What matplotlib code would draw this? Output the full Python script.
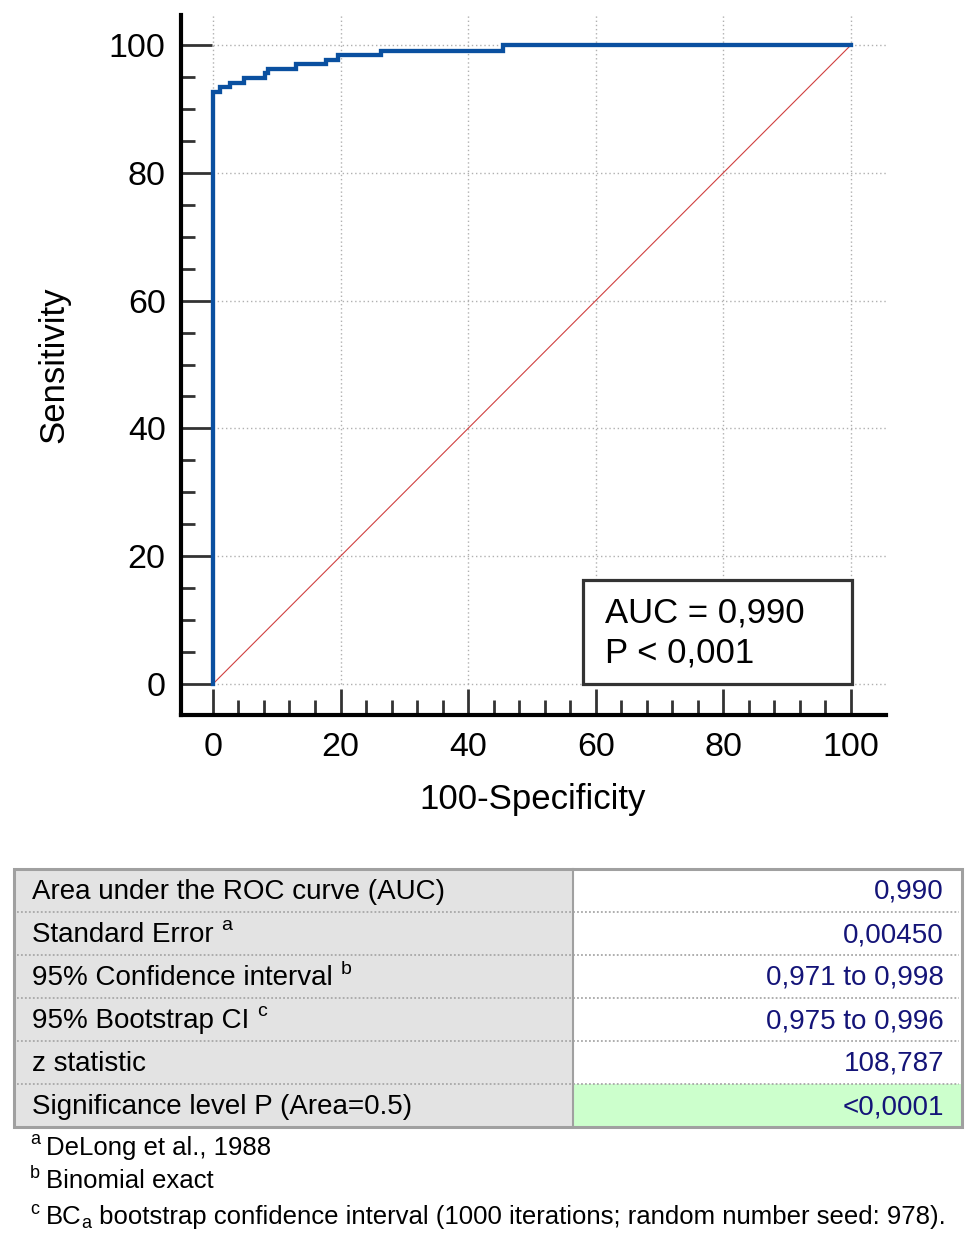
import matplotlib
matplotlib.use('Agg')
import matplotlib.pyplot as plt
from matplotlib.patches import Rectangle
import numpy as np

plt.rcParams['font.family'] = ['Liberation Sans', 'DejaVu Sans']

# ---------------- data ----------------
fpr = [0, 0, 1.1, 2.7, 4.9, 8.2, 8.7, 13.0, 17.8, 19.6, 26.4, 45.5, 100]
tpr = [0, 92.6, 93.4, 94.1, 94.8, 95.6, 96.3, 97.0, 97.7, 98.4, 99.1, 100, 100]
diag = [0, 100]
xticks = [0, 20, 40, 60, 80, 100]
yticks = [0, 20, 40, 60, 80, 100]
xminor = [v for v in range(0, 101, 4) if v % 20]
yminor = [v for v in range(0, 101, 5) if v % 20]
xlabel = "100-Specificity"
ylabel = "Sensitivity"
auc_lines = ["AUC = 0,990", "P < 0,001"]

row_labels = ["Area under the ROC curve (AUC)", "Standard Error",
              "95% Confidence interval", "95% Bootstrap CI",
              "z statistic", "Significance level P (Area=0.5)"]
row_marks = ["", "a", "b", "c", "", ""]
row_values = ["0,990", "0,00450", "0,971 to 0,998", "0,975 to 0,996",
              "108,787", "<0,0001"]
note_marks = ["a", "b", "c"]
note_texts = [["DeLong et al., 1988"], ["Binomial exact"],
              ["BC", "a", " bootstrap confidence interval (1000 iterations; random number seed: 978)."]]

W, H = 976, 1248
fig = plt.figure(figsize=(W / 100, H / 100), dpi=100)

# ---------------- ROC axes ----------------
L, R, T, B = 181, 886, 15, 715
ax = fig.add_axes([L / W, 1 - B / H, (R - L) / W, (B - T) / H])
ax.set_xlim(-5.0, 105.5)
ax.set_ylim(-4.85, 104.7)
for s in ['top', 'right']:
    ax.spines[s].set_visible(False)
for s in ['left', 'bottom']:
    ax.spines[s].set_linewidth(3)
    ax.spines[s].set_color('black')

ax.set_xticks(xticks)
ax.set_yticks(yticks)
ax.set_xticks(xminor, minor=True)
ax.set_yticks(yminor, minor=True)
ax.set_xticklabels([str(v) for v in xticks])
ax.set_yticklabels([str(v) for v in yticks])
ax.tick_params(axis='both', which='both', direction='in', color='#333333', width=2)
ax.tick_params(axis='y', which='major', length=22, pad=11, labelsize=24.5)
ax.tick_params(axis='y', which='minor', length=10)
ax.tick_params(axis='x', which='major', length=19, pad=12, labelsize=24.5)
ax.tick_params(axis='x', which='minor', length=11)

# grid (from 0 to the axes edge)
xmax = ax.get_xlim()[1]
ymax = ax.get_ylim()[1]
gkw = dict(color='#b0b0b0', linewidth=1, linestyle=(0, (1, 2)), zorder=1)
for v in yticks:
    ax.plot([0, xmax], [v, v], **gkw)
for v in xticks:
    ax.plot([v, v], [0, ymax], **gkw)

ax.plot(diag, diag, color='#d04040', linewidth=0.8, zorder=2)
ax.plot(fpr, tpr, drawstyle='steps-post', color='#0a50a0', linewidth=3.1,
        solid_joinstyle='miter', zorder=4, clip_on=False)

ax.add_patch(Rectangle((58.0, 0), 42.2, 16.3, facecolor='white',
                       edgecolor='#333333', linewidth=2.3, zorder=5))
ax.text(61.4, 9.7, auc_lines[0], fontsize=25, va='baseline', ha='left', zorder=6)
ax.text(61.4, 3.3, auc_lines[1], fontsize=25, va='baseline', ha='left', zorder=6)

ax.set_xlabel(xlabel, fontsize=25)
ax.xaxis.set_label_coords(0.499, -0.097)
ax.set_ylabel(ylabel, fontsize=25)
ax.yaxis.set_label_coords(-0.157, 0.5)

# ---------------- table (pixel coordinates) ----------------
tab = fig.add_axes([0, 0, 1, 1])
tab.set_xlim(0, W)
tab.set_ylim(H, 0)
tab.axis('off')

x0, x1, xs = 14, 962, 573
y0, rh = 869, 43
n = len(row_labels)
renderer = fig.canvas.get_renderer()

def to_px(t):
    bb = t.get_window_extent(renderer)
    return bb.x1

val_color = '#141478'
for i in range(n):
    top = y0 + i * rh
    tab.add_patch(Rectangle((x0, top), xs - x0, rh, facecolor='#e3e3e3', edgecolor='none', zorder=1))
    fc = '#ccffcc' if i == n - 1 else 'white'
    tab.add_patch(Rectangle((xs, top), x1 - xs, rh, facecolor=fc, edgecolor='none', zorder=1))
    if i > 0:
        tab.plot([x0 + 3, x1 - 3], [top, top], color='#a8a8a8', linewidth=1.3,
                 linestyle=(0, (1, 1.2)), zorder=2)
    cy = top + rh / 2 + 1.5
    t = tab.text(32, cy, row_labels[i], fontsize=20, va='center', ha='left', zorder=3)
    if row_marks[i]:
        xe = to_px(t)
        tab.text(xe + 8, cy - 9, row_marks[i], fontsize=14, va='center', ha='left', zorder=3)
    tab.text(944, cy, row_values[i], fontsize=20, va='center', ha='right',
             color=val_color, zorder=3)

tab.plot([xs, xs], [y0, y0 + n * rh], color='#a0a0a0', linewidth=1.5, zorder=3)
tab.add_patch(Rectangle((x0, y0), x1 - x0, n * rh, facecolor='none',
                        edgecolor='#a0a0a0', linewidth=2.2, zorder=4))

# footnotes
fy = [1148, 1181, 1217]
for i in range(3):
    tab.text(30, fy[i] - 8, note_marks[i], fontsize=13, va='center', ha='left')
    parts = note_texts[i]
    t = tab.text(46, fy[i], parts[0], fontsize=18.5, va='center', ha='left')
    if len(parts) > 1:
        xe = to_px(t)
        t2 = tab.text(xe, fy[i] + 6, parts[1], fontsize=13, va='center', ha='left')
        xe2 = to_px(t2)
        tab.text(xe2, fy[i], parts[2], fontsize=18.5, va='center', ha='left')

fig.savefig('out.png', dpi=100)
